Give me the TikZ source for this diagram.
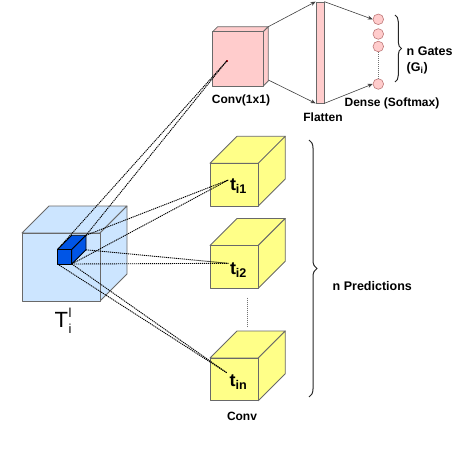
\documentclass[tikz,border=0pt]{standalone}
\usepackage{fontspec}
\setmainfont{Liberation Sans}
\usetikzlibrary{arrows.meta,decorations.pathreplacing}
\definecolor{pinkf}{RGB}{255,204,204}
\definecolor{pinke}{RGB}{190,120,120}
\definecolor{yel}{RGB}{255,255,136}
\definecolor{lblue}{RGB}{204,229,255}
\definecolor{dblue}{RGB}{0,85,230}
\definecolor{edgec}{RGB}{105,105,105}
\definecolor{reddot}{RGB}{170,20,30}
\tikzset{
  cubeedge/.style={draw=edgec, line width=0.8pt, line join=round},
  conn/.style={black, line width=0.9pt, dash pattern=on 1.2pt off 0.8pt},
  arr/.style={draw=black!75, line width=0.6pt, -{Stealth[length=5pt,width=4pt]}},
  lbl/.style={font=\bfseries\fontsize{12}{14}\selectfont, inner sep=0pt},
  tlbl/.style={font=\bfseries\fontsize{18}{20}\selectfont, inner sep=0pt},
  gate/.style={circle, draw=pinke, fill=pinkf, line width=0.6pt, minimum size=10.6pt, inner sep=0pt},
  vdots/.style={draw=black!55, line width=0.7pt, dash pattern=on 1pt off 1pt},
  bracer/.style={draw=black!85, line width=1pt, decorate},
}
% name, x, y, w, h, d, fill, edge style
\newcommand\mycube[8]{%
  \coordinate (#1-ftl) at (#2,#3);
  \coordinate (#1-ftr) at ({#2+#4},#3);
  \coordinate (#1-fbl) at (#2,{#3+#5});
  \coordinate (#1-fbr) at ({#2+#4},{#3+#5});
  \coordinate (#1-btl) at ({#2+#6},{#3-#6});
  \coordinate (#1-btr) at ({#2+#4+#6},{#3-#6});
  \coordinate (#1-bbr) at ({#2+#4+#6},{#3+#5-#6});
  \draw[#8, fill=#7] (#1-ftl) -- (#1-btl) -- (#1-btr) -- (#1-ftr) -- cycle;
  \draw[#8, fill=#7] (#1-ftr) -- (#1-btr) -- (#1-bbr) -- (#1-fbr) -- cycle;
  \draw[#8, fill=#7] (#1-ftl) rectangle (#1-fbr);
}
\begin{document}
\begin{tikzpicture}[x=1pt,y=-1pt]
\useasboundingbox (0,0) rectangle (456,452);

% big input cube
\mycube{big}{22}{233}{78}{68}{27}{lblue}{cubeedge}
% pink conv(1x1) cube
\mycube{pc}{212.7}{31.7}{50.6}{54.3}{5}{pinkf}{cubeedge}
% yellow prediction cubes
\mycube{y1}{210}{163.3}{48.3}{42.7}{27}{yel}{cubeedge}
\mycube{y2}{210}{245.5}{48.3}{42.7}{27}{yel}{cubeedge}
\mycube{y3}{210}{358}{48.3}{42.7}{27}{yel}{cubeedge}

% flatten bar
\node[draw=edgec, fill=pinkf, line width=0.7pt, minimum width=8pt, minimum height=101pt, inner sep=0pt] (flat) at (320,52.5) {};

% gates
\node[gate] (g1) at (378.3,19.3) {};
\node[gate] (g2) at (378.3,34) {};
\node[gate] (g3) at (378.3,46.5) {};
\node[gate] (g4) at (378.3,84) {};
\draw[vdots] (g3.south) -- (g4.north);

% arrows
\coordinate (pa1) at (pc-btr);
\coordinate (pa2) at (268.3,80);
\draw[arr] (pa1) -- (flat.north west);
\draw[arr] (pa2) -- (flat.south west);
\draw[arr] (flat.north east) -- (g1.west);
\draw[arr] (flat.south east) -- (g4.west);

% labels in yellow cubes
\node[tlbl] (t1) at (238.5,186.5) {t\textsubscript{i1}};
\node[tlbl] (t2) at (238.5,270) {t\textsubscript{i2}};
\node[tlbl] (tn) at (238.5,382.5) {t\textsubscript{in}};
\coordinate (t1p) at (228.3,180);
\coordinate (t2p) at (228.3,263.3);
\coordinate (tnp) at (226.7,372.7);

% dotted separator between predictions
\coordinate (sepA) at (247.7,297.7);
\coordinate (sepB) at (247.7,326.7);
\draw[vdots] (sepA) -- (sepB);

% small blue cube
\mycube{s}{57.5}{249.5}{14.3}{14.5}{14.2}{dblue}{draw=black, line width=0.8pt, line join=round}

% red dot in pink cube
\node[fill=reddot, minimum size=2.4pt, inner sep=0pt] (rd) at (226.7,61) {};

% connectors
\draw[conn] (s-ftl) -- (rd.center);
\draw[conn] (s-btr) -- (rd.center);
\draw[conn] (s-btr) -- (t1p);
\draw[conn] (s-fbr) -- (t1p);
\draw[conn] (s-bbr) -- (t2p);
\draw[conn] (s-fbr) -- (t2p);
\draw[conn] (s-fbr) -- (tnp);
\draw[conn] (s-fbl) -- (tnp);

% braces
\coordinate (bgA) at (395,15);
\coordinate (bgB) at (395,82);
\draw[bracer, decoration={brace, amplitude=6.5pt}] (bgA) -- (bgB);
\coordinate (bpA) at (309,140);
\coordinate (bpB) at (309,397);
\draw[bracer, decoration={brace, amplitude=8pt}] (bpA) -- (bpB);

% text labels
\node[lbl] (lconv1) at (241,100) {Conv(1x1)};
\node[lbl] (lflat) at (323,117) {Flatten};
\node[lbl] (ldense) at (392,103) {Dense (Softmax)};
\node[lbl, anchor=west, font=\bfseries\fontsize{12.5}{14}\selectfont] (lgates) at (406.5,51) {n Gates};
\node[lbl, anchor=west, font=\bfseries\fontsize{12.5}{14}\selectfont] (lgi) at (406.5,68) {(G\textsubscript{i})};
\node[lbl, anchor=west, font=\bfseries\fontsize{12.5}{14}\selectfont] (lpred) at (332.5,286.5) {n Predictions};
\node[lbl] (lconv) at (242,416) {Conv};
\node[inner sep=0pt, font=\fontsize{22}{24}\selectfont] (lT) at (63,321) {T\kern0.5pt\makebox[0pt][l]{\raisebox{10pt}{\fontsize{13}{13}\selectfont l}}\raisebox{-6pt}{\fontsize{13}{13}\selectfont i}};
\end{tikzpicture}
\end{document}
